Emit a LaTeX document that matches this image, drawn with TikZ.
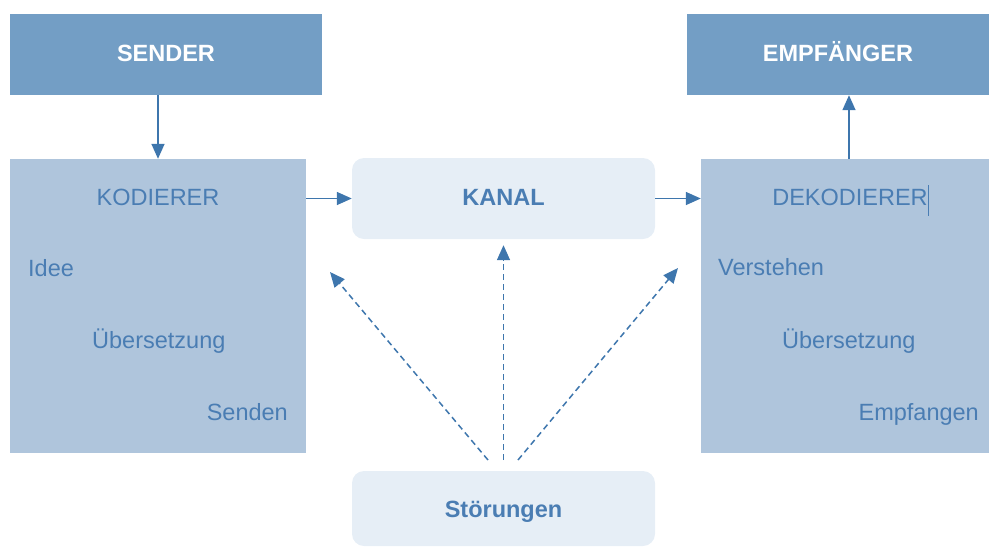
\documentclass[tikz,border=0pt]{standalone}
\usepackage{fontspec}
\setmainfont{Liberation Sans}
\usetikzlibrary{arrows.meta}

\definecolor{darkbox}{HTML}{739EC5}
\definecolor{lightbox}{HTML}{AFC5DC}
\definecolor{palebox}{HTML}{E6EEF6}
\definecolor{bluetext}{HTML}{4A7DB3}
\definecolor{arrowblue}{HTML}{3E76AD}

\begin{document}
\begin{tikzpicture}[x=1pt, y=-1pt,
    every node/.style={font=\fontsize{23.5}{28}\selectfont, inner sep=0pt},
    headbox/.style={fill=darkbox, text=white, font=\fontsize{23.5}{28}\selectfont\bfseries, minimum height=81pt, text height=13pt, text depth=0pt},
    codebox/.style={fill=lightbox, minimum height=294pt},
    softbox/.style={fill=palebox, rounded corners=12pt, text=bluetext, font=\fontsize{23.5}{28}\selectfont\bfseries, minimum width=303pt, text depth=0pt},
    lbl/.style={text=bluetext},
    conn/.style={arrowblue, line width=1.5pt, -{Triangle[length=15pt, width=13pt]}},
    noise/.style={conn, dash pattern=on 6pt off 4pt}]
    \useasboundingbox (0,0) rectangle (989,547);

    % Sender / Empfaenger
    \node[headbox, minimum width=312pt] (sender) at (166,54.5) {SENDER};
    \node[headbox, minimum width=302pt] (empf) at (838,54.5) {EMPFÄNGER};

    % Kodierer
    \node[codebox, minimum width=296pt] (kod) at (158,306) {};
    \node[lbl, anchor=base] (kodt) at (158,205) {KODIERER};
    \node[lbl, anchor=base west] (idee) at (28,276) {Idee};
    \node[lbl, anchor=base west] (uebk) at (92,348) {Übersetzung};
    \node[lbl, anchor=base east] (senden) at (288,420) {Senden};

    % Dekodierer
    \node[codebox, minimum width=288pt] (dekod) at (845,306) {};
    \node[lbl, anchor=base] (dekodt) at (850,205) {DEKODIERER};
    \draw[bluetext, line width=0.7pt] (928,185) -- (928,216);
    \node[lbl, anchor=base west] (verst) at (718,275) {Verstehen};
    \node[lbl, anchor=base west] (uebd) at (782,348) {Übersetzung};
    \node[lbl, anchor=base east] (empfangen) at (979,420) {Empfangen};

    % Kanal und Stoerungen
    \node[softbox, minimum height=81pt, text height=13pt] (kanal) at (503.5,198.5) {KANAL};
    \node[softbox, minimum height=75pt, text height=17pt] (stoer) at (503.5,508.5) {Störungen};

    % Pfeile
    \draw[conn] (kod.north |- sender.south) -- (kod.north);
    \draw[conn] (kod.east |- kanal.west) -- (kanal.west);
    \draw[conn] (kanal.east) -- (kanal.east -| dekod.west);
    \draw[conn] ([xshift=4pt]dekod.north) -- ([xshift=4pt]dekod.north |- empf.south);

    % Stoerungen wirken ein
    \coordinate (sl) at (488,460);
    \coordinate (sm) at (503.5,460);
    \coordinate (sr) at (518,460);
    \coordinate (el) at (330,272);
    \coordinate (er) at (678,268);
    \draw[noise] (sl) -- (el);
    \draw[noise, shorten >=6pt] (sm) -- (kanal.south);
    \draw[noise] (sr) -- (er);
\end{tikzpicture}
\end{document}
